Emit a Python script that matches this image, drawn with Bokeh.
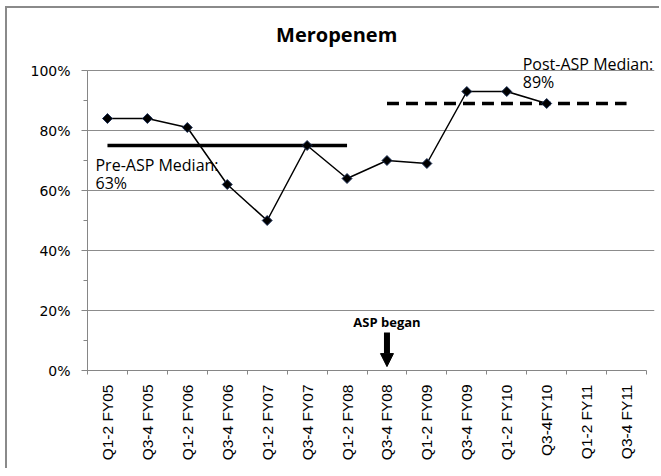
import math
from bokeh.plotting import figure
from bokeh.models import (FixedTicker, Label, Arrow, NormalHead, Range1d,
                          NumeralTickFormatter, InlineStyleSheet)
from bokeh.embed import file_html
from bokeh.resources import INLINE

# ---- data -------------------------------------------------------------
categories = ["Q1-2 FY05", "Q3-4 FY05", "Q1-2 FY06", "Q3-4 FY06", "Q1-2 FY07",
              "Q3-4 FY07", "Q1-2 FY08", "Q3-4 FY08", "Q1-2 FY09", "Q3-4 FY09",
              "Q1-2 FY10", "Q3-4FY10", "Q1-2 FY11", "Q3-4 FY11"]
meropenem = [0.84, 0.84, 0.81, 0.62, 0.50, 0.75, 0.64, 0.70, 0.69, 0.93, 0.93, 0.89]
pre_median_level = 0.75
pre_median_span = ("Q1-2 FY05", "Q1-2 FY08")
post_median_level = 0.89
post_median_span = ("Q3-4 FY08", "Q3-4 FY11")
asp_start = "Q3-4 FY08"
y_ticks = [0, 0.2, 0.4, 0.6, 0.8, 1.0]
y_minor = [0, 0.1, 0.2, 0.3, 0.4, 0.5, 0.6, 0.7, 0.8, 0.9, 1.0]

# ---- helpers ------------------------------------------------------------
def cx(cat):
    return categories.index(cat) + 0.5

n = len(categories)
centers = [i + 0.5 for i in range(n)]
bounds = list(range(n + 1))

Y_TOP = 1.1867
X_RIGHT = n + 0.2
p = figure(width=654, height=462, output_backend="svg", toolbar_location=None,
           x_range=Range1d(0, X_RIGHT), y_range=Range1d(0, Y_TOP),
           min_border_left=80, min_border_top=6, min_border_right=7,
           min_border_bottom=100)
p.stylesheets = [InlineStyleSheet(css=":host { margin-left: 5px; margin-top: 6px; "
                                      "border-left: 2px solid #8a8a8a; "
                                      "border-top: 2px solid #8a8a8a; "
                                      "border-right: none; border-bottom: none; "
                                      "outline: none; box-shadow: none; }")]
p.outline_line_color = None
p.background_fill_color = "white"
p.border_fill_color = "white"

# axes
p.xaxis.bounds = (0, n)
p.xaxis.ticker = FixedTicker(ticks=centers, minor_ticks=bounds)
p.xaxis.major_label_overrides = {c: cat for c, cat in zip(centers, categories)}
p.xaxis.major_label_orientation = math.pi / 2
p.xaxis.major_tick_line_color = None
p.xaxis.major_tick_out = 0
p.xaxis.major_tick_in = 0
p.xaxis.minor_tick_out = 4
p.xaxis.minor_tick_in = 0
p.xaxis.minor_tick_line_color = "#868686"
p.xaxis.axis_line_color = "#868686"
p.xaxis.major_label_standoff = 10
p.xaxis.major_label_text_font = "Liberation Sans"
p.xaxis.major_label_text_font_size = "15.5px"
p.xaxis.major_label_text_color = "black"

p.yaxis.bounds = (0, y_ticks[-1])
p.yaxis.ticker = FixedTicker(ticks=y_ticks, minor_ticks=y_minor)
p.yaxis.formatter = NumeralTickFormatter(format="0%")
p.yaxis.major_tick_out = 6
p.yaxis.major_tick_in = 0
p.yaxis.minor_tick_out = 4
p.yaxis.minor_tick_in = 0
p.yaxis.major_tick_line_color = "#868686"
p.yaxis.minor_tick_line_color = "#868686"
p.yaxis.axis_line_color = "#868686"
p.yaxis.major_label_standoff = 11
p.yaxis.major_label_text_font = "DejaVu Sans"
p.yaxis.major_label_text_font_size = "14px"
p.yaxis.major_label_text_color = "black"

p.xgrid.grid_line_color = None
p.ygrid.grid_line_color = "#8c8c8c"
p.ygrid.grid_line_width = 1
p.ygrid.bounds = (0, n)

# median lines
p.line([cx(pre_median_span[0]), cx(pre_median_span[1])],
       [pre_median_level, pre_median_level], line_color="black", line_width=3.5)
p.line([cx(post_median_span[0]), cx(post_median_span[1])],
       [post_median_level, post_median_level], line_color="black", line_width=3.5,
       line_dash="12 7")

# series
xs = centers[:len(meropenem)]
p.line(xs, meropenem, line_color="black", line_width=1.5)
p.scatter(xs, meropenem, marker="square", angle=math.pi / 4, size=7,
          fill_color="black", line_color="#1c2f55", line_width=1)

# annotations
ann_font = "Open Sans"
p.add_layout(Label(x=6.24, y=1.12, text="Meropenem", text_align="center",
                   text_baseline="middle", text_font=ann_font,
                   text_font_style="bold", text_font_size="20px", text_color="black"))
p.add_layout(Label(x=0.2, y=0.723, text="Pre-ASP Median:", text_align="left",
                   text_baseline="top", text_font=ann_font, text_font_size="16px",
                   text_color="black"))
p.add_layout(Label(x=0.2, y=0.663, text="63%", text_align="left",
                   text_baseline="top", text_font=ann_font, text_font_size="16px",
                   text_color="black"))
p.add_layout(Label(x=10.9, y=1.06, text="Post-ASP Median:", text_align="left",
                   text_baseline="top", text_font=ann_font, text_font_size="16px",
                   text_color="black"))
p.add_layout(Label(x=10.9, y=1.0, text="89%", text_align="left",
                   text_baseline="top", text_font=ann_font, text_font_size="16px",
                   text_color="black"))
p.add_layout(Label(x=cx(asp_start), y=0.193, text="ASP began", text_align="center",
                   text_baseline="top", text_font=ann_font, text_font_style="bold",
                   text_font_size="13px", text_color="black"))
p.add_layout(Arrow(end=NormalHead(size=13, fill_color="black", line_color="black"),
                   x_start=cx(asp_start), y_start=0.127,
                   x_end=cx(asp_start), y_end=0.013,
                   line_width=6, line_color="black"))

open("out.html", "w").write(file_html(p, INLINE))
